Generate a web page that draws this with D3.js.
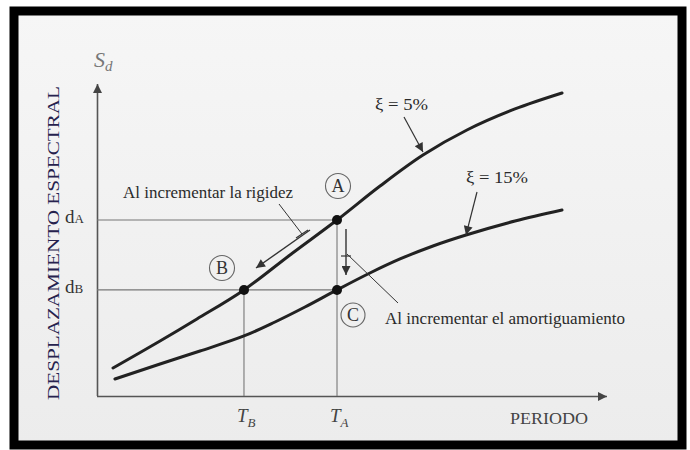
<!DOCTYPE html>
<html>
<head>
<meta charset="utf-8">
<script src="https://cdn.jsdelivr.net/npm/d3@7"></script>
<style>
html,body{margin:0;padding:0;background:#fff;}
svg{display:block;}
text{font-family:"Liberation Serif","DejaVu Serif",serif;}
</style>
</head>
<body>
<svg id="chart" width="690" height="450"></svg>
<script>
// ---- data (abstract units: period T, spectral displacement Sd) ----
const periodT5  = [0.157, 0.618, 0.98, 1.441, 1.892, 2.353, 2.775, 3.196, 3.627, 4.098, 4.559];
const sd5       = [0.449, 0.881, 1.234, 1.70, 2.26, 2.82, 3.365, 3.862, 4.263, 4.60, 4.856];
const periodT15 = [0.176, 0.618, 1.01, 1.441, 1.745, 2.039, 2.353, 2.676, 2.971, 3.294, 3.618, 4.098, 4.559];
const sd15      = [0.272, 0.513, 0.721, 0.962, 1.186, 1.426, 1.70, 1.971, 2.196, 2.404, 2.58, 2.804, 2.981];
const seriesNames = ["ξ = 5%", "ξ = 15%"];
const periodTicks = ["B", "A"];          // T_B, T_A
const periodTickValues = [1.441, 2.353];
const dispTicks = ["A", "B"];            // d_A, d_B
const dispTickValues = [2.82, 1.70];
const pointNames = ["A", "B", "C"];
const pointT  = [2.353, 1.441, 2.353];
const pointSd = [2.82, 1.70, 1.70];

const svg = d3.select("#chart");
const W = 690, H = 450;

// background + frame
const defs = svg.append("defs");
const grad = defs.append("linearGradient").attr("id","bg").attr("x1",0).attr("y1",0).attr("x2",0).attr("y2",1);
grad.append("stop").attr("offset","0%").attr("stop-color","#f6f6f6");
grad.append("stop").attr("offset","100%").attr("stop-color","#ececec");
svg.append("rect").attr("width",W).attr("height",H).attr("fill","#ffffff");
svg.append("rect").attr("x",14).attr("y",11).attr("width",668).attr("height",434)
   .attr("fill","url(#bg)").attr("stroke","#000").attr("stroke-width",9);

function marker(id, color, w, h){
  defs.append("marker").attr("id",id).attr("viewBox","0 0 10 10")
    .attr("refX",10).attr("refY",5).attr("markerWidth",w).attr("markerHeight",h)
    .attr("markerUnits","userSpaceOnUse").attr("orient","auto")
    .append("path").attr("d","M0,0L10,5L0,10Z").attr("fill",color);
}
marker("axArrow","#444",11,9);
marker("smArrow","#333",12,9);

const x = d3.scaleLinear().domain([0,5]).range([97,607]);
const y = d3.scaleLinear().domain([0,5]).range([396,84]);

// axes
const xAxis = svg.append("g").attr("transform",`translate(0,${y(0)})`)
  .call(d3.axisBottom(x).tickValues(periodTickValues).tickSize(0).tickSizeOuter(0).tickFormat(""));
xAxis.select(".domain").attr("stroke","#555").attr("stroke-width",1.6).attr("marker-end","url(#axArrow)")
  .attr("d",`M${x(0)},0.5H${x(5)}`);
const yAxis = svg.append("g").attr("transform",`translate(${x(0)},0)`)
  .call(d3.axisLeft(y).tickValues(dispTickValues).tickSize(0).tickSizeOuter(0).tickFormat(""));
yAxis.select(".domain").attr("stroke","#555").attr("stroke-width",1.6).attr("marker-end","url(#axArrow)")
  .attr("d",`M0.5,${y(0)}V${y(5)}`);

// reference lines
const refG = svg.append("g").attr("stroke","#777").attr("stroke-width",1.1);
dispTickValues.forEach((v)=>{
  refG.append("line").attr("x1",x(0)).attr("x2",x(periodTickValues[1])).attr("y1",y(v)).attr("y2",y(v));
});
periodTickValues.forEach((v,i)=>{
  const top = i===0 ? dispTickValues[1] : dispTickValues[0];
  refG.append("line").attr("x1",x(v)).attr("x2",x(v)).attr("y1",y(0)).attr("y2",y(top));
});

// curves
const line = d3.line().x(d=>x(d[0])).y(d=>y(d[1])).curve(d3.curveCatmullRom.alpha(0.5));
const s5 = periodT5.map((t,i)=>[t,sd5[i]]);
const s15 = periodT15.map((t,i)=>[t,sd15[i]]);
[s5,s15].forEach(s=>{
  svg.append("path").datum(s).attr("d",line).attr("fill","none")
    .attr("stroke","#222").attr("stroke-width",3).attr("stroke-linecap","round");
});

// points
pointNames.forEach((n,i)=>{
  svg.append("circle").attr("cx",x(pointT[i])).attr("cy",y(pointSd[i])).attr("r",5).attr("fill","#111");
});

// circled letters
const circLab = [[338,186,12.5],[222,268,12.5],[353,315,12]];
pointNames.forEach((n,i)=>{
  const [cx,cy,r] = circLab[i];
  svg.append("circle").attr("cx",cx).attr("cy",cy).attr("r",r).attr("fill","none").attr("stroke","#666").attr("stroke-width",1.1);
  svg.append("text").attr("x",cx).attr("y",cy+6).attr("text-anchor","middle")
    .attr("font-size",18).attr("fill","#333").text(n);
});

// axis labels
svg.append("text").attr("transform","translate(59,243) rotate(-90)").attr("text-anchor","middle")
  .attr("font-size",17).attr("fill","#26224e").attr("textLength",314).attr("lengthAdjust","spacingAndGlyphs")
  .text("DESPLAZAMIENTO ESPECTRAL");
const sd = svg.append("text").attr("x",94).attr("y",67).attr("font-size",22).attr("font-style","italic").attr("fill","#777");
sd.append("tspan").text("S");
sd.append("tspan").attr("dy",4).attr("font-size",15).text("d");
svg.append("text").attr("x",588).attr("y",424).attr("text-anchor","end").attr("font-size",16)
  .attr("fill","#444").attr("textLength",78).attr("lengthAdjust","spacingAndGlyphs").text("PERIODO");

// tick labels
periodTicks.forEach((n,i)=>{
  const t = svg.append("text").attr("x",x(periodTickValues[i])-7).attr("y",422).attr("font-size",19)
    .attr("font-style","italic").attr("fill","#444");
  t.append("tspan").text("T");
  t.append("tspan").attr("dy",5).attr("font-size",13).text(n);
});
dispTicks.forEach((n,i)=>{
  const t = svg.append("text").attr("x",65).attr("y",y(dispTickValues[i])+3).attr("font-size",19).attr("fill","#333");
  t.append("tspan").text("d");
  t.append("tspan").attr("font-size",13).text(n);
});

// annotations
function txt(s,xp,yp,size,len){
  const t = svg.append("text").attr("x",xp).attr("y",yp).attr("font-size",size).attr("fill","#2a2a2a").text(s);
  if(len) t.attr("textLength",len).attr("lengthAdjust","spacingAndGlyphs");
  return t;
}
txt(seriesNames[0],375,110,16,53);
txt(seriesNames[1],466,183,16,62);
txt("Al incrementar la rigidez",123,198,17.5,170);
txt("Al incrementar el amortiguamiento",385,324,17.5,240);

const ann = svg.append("g").attr("stroke","#333").attr("fill","none");
function arrow(x1,y1,x2,y2,w){
  ann.append("line").attr("x1",x1).attr("y1",y1).attr("x2",x2).attr("y2",y2)
    .attr("stroke-width",w||1.2).attr("marker-end","url(#smArrow)");
}
function seg(x1,y1,x2,y2,w){
  ann.append("line").attr("x1",x1).attr("y1",y1).attr("x2",x2).attr("y2",y2).attr("stroke-width",w||1);
}
arrow(404,117,423,152);
arrow(477,192,466,235);
arrow(310,230,256,268,1.4);
arrow(346,229,346,275,1.4);
// leaders with ticks
seg(279,204,302,234);
seg(296,238,308,230,1.2);
seg(398,303,347,254);
seg(341,256,351,256,1.2);
</script>
</body>
</html>
